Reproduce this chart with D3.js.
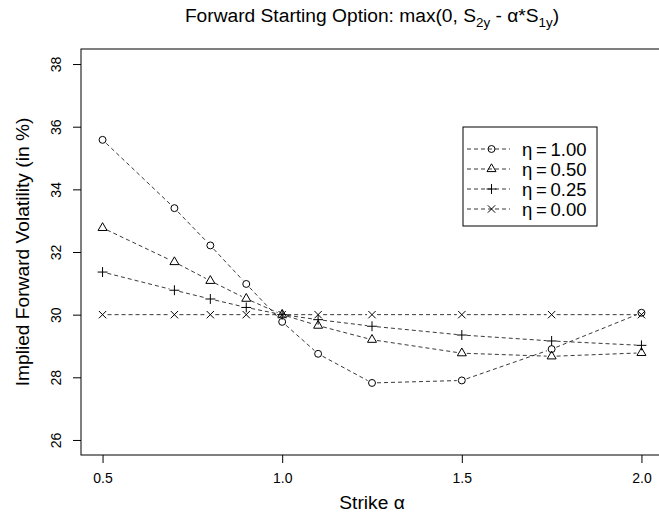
<!DOCTYPE html>
<html>
<head>
<meta charset="utf-8">
<script src="https://cdn.jsdelivr.net/npm/d3@7"></script>
<style>
  html, body { margin: 0; padding: 0; background: #fff; }
  svg { display: block; font-family: "Liberation Sans", Arial, Helvetica, sans-serif; }
</style>
</head>
<body>
<div id="chart"></div>
<script>
// strikes (alpha) and implied forward vols (%) per eta
const strikes = [0.5, 0.7, 0.8, 0.9, 1.0, 1.1, 1.25, 1.5, 1.75, 2.0];
const eta100 = [35.58, 33.40, 32.21, 30.98, 29.77, 28.75, 27.82, 27.90, 28.90, 30.06];
const eta050 = [32.77, 31.68, 31.08, 30.51, 30.00, 29.65, 29.20, 28.77, 28.67, 28.78];
const eta025 = [31.36, 30.78, 30.50, 30.23, 30.00, 29.84, 29.63, 29.35, 29.16, 29.02];
const eta000 = [30.00, 30.00, 30.00, 30.00, 30.00, 30.00, 30.00, 30.00, 30.00, 30.00];
const seriesLabels = ['η=1.00', 'η=0.50', 'η=0.25', 'η=0.00'];
const xTicks = [0.5, 1.0, 1.5, 2.0];
const yTicks = [26, 28, 30, 32, 34, 36, 38];

const width = 659, height = 512;
const plotLeft = 81, plotRight = 663, plotTop = 49, plotBottom = 455;

const svg = d3.select('#chart').append('svg')
    .attr('width', width)
    .attr('height', height);

// R style 4% padding around the data range
const x = d3.scaleLinear().domain([0.44, 2.06]).range([plotLeft, plotRight]);
const y = d3.scaleLinear().domain([25.52, 38.48]).range([plotBottom, plotTop]);

const series = [
    { label: seriesLabels[0], values: eta100, symbol: d3.symbolCircle, size: 38 },
    { label: seriesLabels[1], values: eta050, symbol: d3.symbolTriangle2, size: 58 },
    { label: seriesLabels[2], values: eta025, symbol: d3.symbolPlus, size: 34 },
    { label: seriesLabels[3], values: eta000, symbol: d3.symbolTimes, size: 37 }
];

// x axis
const xAxis = svg.append('g')
    .attr('transform', `translate(0,${plotBottom})`)
    .call(d3.axisBottom(x).tickValues(xTicks).tickFormat(d3.format('.1f')).tickSize(8).tickPadding(10));
xAxis.select('.domain').remove();
xAxis.selectAll('text').attr('font-size', 14).attr('font-family', null).attr('fill', '#000');

// y axis, labels rotated like R's default las=0
const yAxis = svg.append('g')
    .attr('transform', `translate(${plotLeft},0)`)
    .call(d3.axisLeft(y).tickValues(yTicks).tickSize(8).tickFormat(d3.format('d')));
yAxis.select('.domain').remove();
yAxis.selectAll('text')
    .attr('font-size', 14)
    .attr('font-family', null)
    .attr('fill', '#000')
    .attr('x', null).attr('dy', null)
    .attr('text-anchor', 'middle')
    .attr('transform', 'translate(-20,0) rotate(-90)');

// plot box
svg.append('rect')
    .attr('x', plotLeft).attr('y', plotTop)
    .attr('width', plotRight - plotLeft).attr('height', plotBottom - plotTop)
    .attr('fill', 'none').attr('stroke', '#000').attr('stroke-width', 1);

// lines with gaps round the points (type = "b")
const gap = 5;
const lines = svg.append('g')
    .attr('fill', 'none')
    .attr('stroke', '#222')
    .attr('stroke-width', 0.9)
    .attr('stroke-dasharray', '4,3');

series.forEach(s => {
    const pts = strikes.map((k, i) => [x(k), y(s.values[i])]);
    const segs = d3.pairs(pts).map(([a, b]) => {
        const dx = b[0] - a[0], dy = b[1] - a[1];
        const len = Math.hypot(dx, dy);
        if (len <= 2 * gap) return null;
        const ux = dx / len, uy = dy / len;
        return [[a[0] + ux * gap, a[1] + uy * gap], [b[0] - ux * gap, b[1] - uy * gap]];
    }).filter(d => d);
    lines.append('g').selectAll('line')
        .data(segs)
        .join('line')
        .attr('x1', d => d[0][0]).attr('y1', d => d[0][1])
        .attr('x2', d => d[1][0]).attr('y2', d => d[1][1]);

    svg.append('g')
        .selectAll('path')
        .data(s.values)
        .join('path')
        .attr('transform', (d, i) => `translate(${x(strikes[i])},${y(d)})`)
        .attr('d', d3.symbol(s.symbol, s.size))
        .attr('fill', 'none')
        .attr('stroke', '#000')
        .attr('stroke-width', 1);
});

// legend
const legend = svg.append('g');
legend.append('rect')
    .attr('x', 463).attr('y', 127)
    .attr('width', 134).attr('height', 99)
    .attr('fill', '#fff').attr('stroke', '#000').attr('stroke-width', 1);

const row = legend.selectAll('g.row')
    .data(series)
    .join('g')
    .attr('class', 'row')
    .attr('transform', (d, i) => `translate(0,${149 + i * 20})`);
row.append('line')
    .attr('x1', 467).attr('x2', 510)
    .attr('stroke', '#222').attr('stroke-width', 0.9).attr('stroke-dasharray', '4,3');
row.append('path')
    .attr('transform', 'translate(491.5,0)')
    .attr('d', d => d3.symbol(d.symbol, d.size)())
    .attr('fill', 'none').attr('stroke', '#000');
// plotmath-like spacing round the "="
row.append('text')
    .attr('x', 522).attr('y', 6.5)
    .attr('font-size', 18.5)
    .text(d => d.label.replace('=', '\u2009=\u2009'));

// titles
const title = svg.append('text')
    .attr('x', (plotLeft + plotRight) / 2).attr('y', 22)
    .attr('text-anchor', 'middle')
    .attr('font-size', 19.2);
title.append('tspan').text('Forward Starting Option: max(0, S');
title.append('tspan').attr('font-size', 13.4).attr('dy', 5).text('2y');
title.append('tspan').attr('dy', -5).text(' - α*S');
title.append('tspan').attr('font-size', 13.4).attr('dy', 5).text('1y');
title.append('tspan').attr('dy', -5).text(')');

svg.append('text')
    .attr('x', (plotLeft + plotRight) / 2).attr('y', 509)
    .attr('text-anchor', 'middle')
    .attr('font-size', 19.2)
    .text('Strike α');

svg.append('text')
    .attr('transform', `translate(29,${(plotTop + plotBottom) / 2}) rotate(-90)`)
    .attr('text-anchor', 'middle')
    .attr('font-size', 19.2)
    .text('Implied Forward Volatility (in %)');
</script>
</body>
</html>
